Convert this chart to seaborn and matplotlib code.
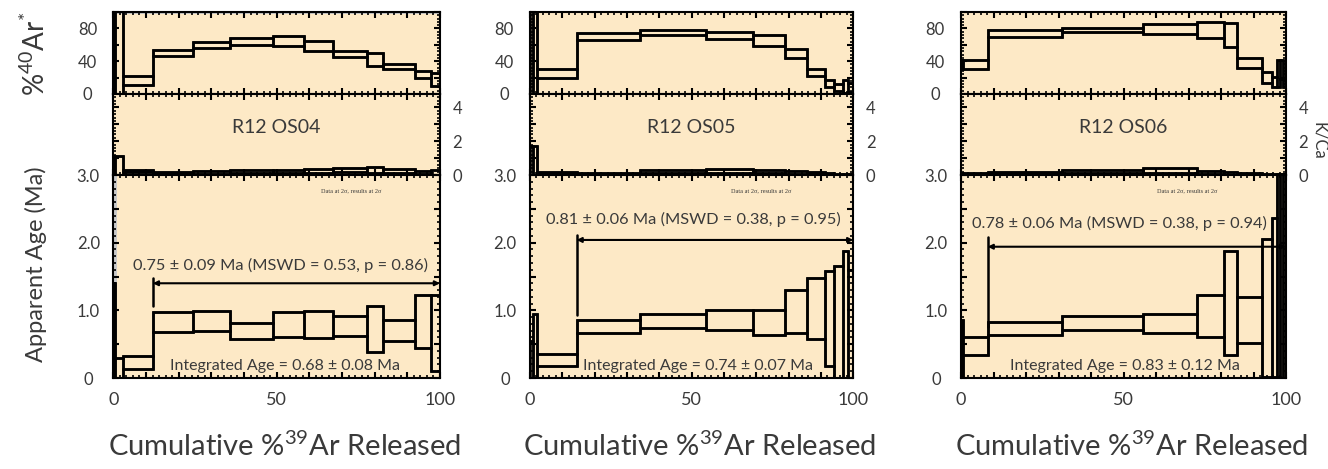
import matplotlib

matplotlib.use("Agg")
import matplotlib.pyplot as plt
import seaborn as sns
from matplotlib.ticker import FuncFormatter, MultipleLocator

# %% step heating data (cumulative %39Ar step edges)
os04_steps = [0, 0.5, 2.9, 12.1, 24.3, 35.8, 48.9, 58.5, 67.2, 77.7, 82.6, 92.3, 97.1, 100]
os04_age = [0.45, -0.1, 0.23, 0.83, 0.84, 0.69, 0.79, 0.79, 0.765, 0.73, 0.70, 0.835, 0.665]
os04_age_err = [0.95, 0.4, 0.09, 0.15, 0.15, 0.12, 0.18, 0.20, 0.145, 0.34, 0.16, 0.395, 0.565]
os04_ar40 = [50, 50, 16.5, 50, 59.5, 64, 65, 59, 49, 42, 33.5, 24, 17.5]
os04_ar40_err = [70, 70, 5.5, 3.3, 3.5, 4, 6, 6, 4, 8, 3.5, 4, 7.5]
os04_kca = [0.55, 0.55, 0.23, 0.10, 0.16, 0.20, 0.20, 0.24, 0.28, 0.31, 0.24, 0.14, 0.15]
os04_kca_err = [0.55, 0.55, 0.07, 0.06, 0.08, 0.10, 0.10, 0.10, 0.12, 0.19, 0.10, 0.10, 0.15]

os05_steps = [0, 0.9, 2.3, 14.4, 34.0, 54.4, 69.1, 78.9, 85.8, 91.2, 94.0, 96.7, 98.5, 100]
os05_age = [0.125, 0.42, 0.26, 0.76, 0.84, 0.855, 0.82, 0.98, 1.025, 0.875, 0.78, 0.84, 0.695]
os05_age_err = [0.425, 0.52, 0.09, 0.10, 0.10, 0.145, 0.19, 0.32, 0.455, 0.705, 0.88, 1.04, 0.895]
os05_ar40 = [50, 50, 25, 70, 75, 71, 65, 49.5, 26, 13, 8, 9, 8]
os05_ar40_err = [70, 70, 6, 4, 3, 4, 7, 5.5, 4, 4.3, 4.3, 8, 5]
os05_kca = [0.85, 0.85, 0.11, 0.05, 0.20, 0.24, 0.22, 0.16, 0.10, 0.06, 0.04, 0.03, 0.03]
os05_kca_err = [0.85, 0.85, 0.05, 0.05, 0.10, 0.12, 0.10, 0.08, 0.06, 0.04, 0.04, 0.03, 0.03]

os06_steps = [0, 0.7, 8.2, 31.2, 56.1, 72.5, 80.9, 85.0, 92.5, 95.6, 97.1, 98.2, 99.2, 100]
os06_age = [0.325, 0.475, 0.735, 0.81, 0.80, 0.915, 1.11, 0.85, 1.04, 1.195, 1.76, 1.5, 1.5]
os06_age_err = [0.525, 0.135, 0.095, 0.10, 0.14, 0.305, 0.77, 0.34, 1.02, 1.175, 1.74, 2.0, 2.0]
os06_ar40 = [36, 36, 74, 78, 79, 78, 71.5, 38, 20, 15, 25, 29.5, 14]
os06_ar40_err = [6, 6, 4, 3, 6, 10, 14.5, 6, 7, 6, 16, 11.5, 6]
os06_kca = [0.06, 0.06, 0.10, 0.20, 0.28, 0.16, 0.08, 0.06, 0.03, 0.03, 0.03, 0.03, 0.03]
os06_kca_err = [0.06, 0.06, 0.06, 0.10, 0.16, 0.10, 0.08, 0.06, 0.03, 0.03, 0.03, 0.03, 0.03]

sample_names = ["R12 OS04", "R12 OS05", "R12 OS06"]
plateau_start = [12.1, 14.4, 8.2]
plateau_labels = [
    "0.75 ± 0.09 Ma (MSWD = 0.53, p = 0.86)",
    "0.81 ± 0.06 Ma (MSWD = 0.38, p = 0.95)",
    "0.78 ± 0.06 Ma (MSWD = 0.38, p = 0.94)",
]
integrated_labels = [
    "Integrated Age = 0.68 ± 0.08 Ma",
    "Integrated Age = 0.74 ± 0.07 Ma",
    "Integrated Age = 0.83 ± 0.12 Ma",
]

samples = [
    dict(steps=os04_steps, age=os04_age, age_err=os04_age_err, ar40=os04_ar40,
         ar40_err=os04_ar40_err, kca=os04_kca, kca_err=os04_kca_err),
    dict(steps=os05_steps, age=os05_age, age_err=os05_age_err, ar40=os05_ar40,
         ar40_err=os05_ar40_err, kca=os05_kca, kca_err=os05_kca_err),
    dict(steps=os06_steps, age=os06_age, age_err=os06_age_err, ar40=os06_ar40,
         ar40_err=os06_ar40_err, kca=os06_kca, kca_err=os06_kca_err),
]

# %% layout / style
sns.set_style("ticks")
plt.rcParams["font.family"] = ["Lato", "DejaVu Sans"]
plt.rcParams["mathtext.fontset"] = "custom"
plt.rcParams["mathtext.rm"] = "Lato"
plt.rcParams["text.color"] = "#333333"
plt.rcParams["axes.labelcolor"] = "#333333"

BG = "#FDE9C6"
TXT = "#3a3a3a"
W, H = 1328, 469
col_x0 = [113.3, 530, 961]
col_x1 = [440, 853.3, 1286]
rows = {"top": (12, 94), "mid": (94, 175), "bot": (175, 378)}
arrow_y = [1.40, 2.04, 1.94]
bar_span = [(1.06, 1.48), (0.93, 2.11), (0.76, 2.09)]
plat_xy = [(51.1, 1.66), (50.5, 2.34), (48.9, 2.29)]
integ_x = [52.7, 52.0, 50.5]
note_x = [72.8, 71.6, 69.5]


def make_ax(fig, i, row):
    y_top, y_bot = rows[row]
    ax = fig.add_axes([col_x0[i] / W, 1 - y_bot / H,
                       (col_x1[i] - col_x0[i]) / W, (y_bot - y_top) / H])
    ax.set_facecolor(BG)
    for s in ax.spines.values():
        s.set_linewidth(1.5)
        s.set_color("black")
    ax.set_xlim(0, 100)
    ax.xaxis.set_major_locator(MultipleLocator(10))
    ax.xaxis.set_minor_locator(MultipleLocator(2))
    ax.tick_params(which="both", direction="in", top=True, right=True,
                   bottom=True, left=True, colors="black", labelcolor=TXT)
    ax.tick_params(which="major", length=4, width=1.5)
    ax.tick_params(which="minor", length=2.5, width=1.2)
    return ax


def draw_steps(ax, steps, val, err):
    # boxes for each step plus the upper/lower envelopes joining them
    left = steps[:-1]
    widths = [b - a for a, b in zip(steps[:-1], steps[1:])]
    lows = [v - e for v, e in zip(val, err)]
    highs = [v + e for v, e in zip(val, err)]
    heights = [2 * e for e in err]
    ax.bar(left, heights, width=widths, bottom=lows, align="edge",
           fill=False, edgecolor="black", linewidth=1.8)
    ax.stairs(highs, steps, baseline=None, color="black", lw=1.8)
    ax.stairs(lows, steps, baseline=None, color="black", lw=1.8)


def center_yticklabels(ax):
    for lab in ax.get_yticklabels(which="major"):
        lab.set_horizontalalignment("center")


fig = plt.figure(figsize=(W / 100, H / 100), dpi=100)

for i, smp in enumerate(samples):
    # %40Ar* panel
    ax_t = make_ax(fig, i, "top")
    if i == 0:
        ax_t.axvspan(0, 1.2, color="#c9c9c9", lw=0, zorder=0)
        ax_t.axhspan(97, 100, color="#c9c9c9", lw=0, zorder=0)
    draw_steps(ax_t, smp["steps"], smp["ar40"], smp["ar40_err"])
    ax_t.set_ylim(0, 100)
    ax_t.yaxis.set_major_locator(MultipleLocator(20))
    ax_t.yaxis.set_minor_locator(MultipleLocator(4))
    ax_t.yaxis.set_major_formatter(FuncFormatter(lambda v, p: f"{v:.0f}" if v % 40 == 0 else ""))
    ax_t.tick_params(axis="y", which="major", pad=18.5, labelsize=12)
    ax_t.tick_params(axis="x", labelbottom=False)
    center_yticklabels(ax_t)

    # K/Ca panel
    ax_m = make_ax(fig, i, "mid")
    draw_steps(ax_m, smp["steps"], smp["kca"], smp["kca_err"])
    ax_m.set_ylim(0, 4.8)
    ax_m.yaxis.set_major_locator(MultipleLocator(1))
    ax_m.yaxis.set_minor_locator(MultipleLocator(0.2))
    ax_m.yaxis.set_major_formatter(FuncFormatter(lambda v, p: f"{v:.0f}" if v % 2 == 0 else ""))
    ax_m.tick_params(axis="y", labelleft=False, labelright=True, pad=9, labelsize=12)
    ax_m.tick_params(axis="x", labelbottom=False)
    ax_m.text(50, 2.8, sample_names[i], ha="center", va="center", fontsize=14, color=TXT)

    # age spectrum panel
    ax_b = make_ax(fig, i, "bot")
    if i == 0:
        ax_b.axvspan(0, 1.2, color="#c9c9c9", lw=0, zorder=0)
    draw_steps(ax_b, smp["steps"], smp["age"], smp["age_err"])
    ax_b.set_ylim(0, 3.0)
    ax_b.yaxis.set_major_locator(MultipleLocator(0.5))
    ax_b.yaxis.set_minor_locator(MultipleLocator(0.1))
    ax_b.yaxis.set_major_formatter(FuncFormatter(
        lambda v, p: ("0" if v == 0 else f"{v:.1f}") if v % 1 == 0 else ""))
    ax_b.xaxis.set_major_formatter(FuncFormatter(lambda v, p: f"{v:.0f}" if v % 50 == 0 else ""))
    ax_b.tick_params(axis="y", which="major", pad=18, labelsize=12)
    ax_b.tick_params(axis="x", which="major", pad=10, labelsize=13)
    center_yticklabels(ax_b)
    ax_b.set_xlabel("Cumulative %$^{39}$Ar Released", fontsize=21, color=TXT)
    ax_b.xaxis.set_label_coords(0.524, -0.26)

    # plateau arrow
    x0 = plateau_start[i]
    ax_b.annotate("", xy=(100, arrow_y[i]), xytext=(x0, arrow_y[i]),
                  arrowprops=dict(arrowstyle="<|-|>", color="black", lw=1.5,
                                  mutation_scale=7, shrinkA=0, shrinkB=0))
    ax_b.plot([x0, x0], bar_span[i], color="black", lw=1.8)
    ax_b.text(plat_xy[i][0], plat_xy[i][1], plateau_labels[i],
              ha="center", va="center", fontsize=11.8, color=TXT)
    ax_b.text(integ_x[i], 0.17, integrated_labels[i], ha="center", va="center",
              fontsize=11.5, color=TXT)
    ax_b.text(note_x[i], 2.77, "Data at 2σ, results at 2σ", ha="center", va="center",
              fontsize=4.5, family="Liberation Serif", color=TXT)

fig.text(0.026, 0.885, "%$^{40}$Ar$^{*}$", rotation=90, ha="center", va="center",
         fontsize=20, color=TXT)
fig.text(0.027, 0.437, "Apparent Age (Ma)", rotation=90, ha="center", va="center",
         fontsize=17, color=TXT)
fig.text(1311 / W, 0.70, "K/Ca", rotation=270, ha="left", va="center", fontsize=12, color=TXT)

fig.savefig("out.png", dpi=100, facecolor="white")
